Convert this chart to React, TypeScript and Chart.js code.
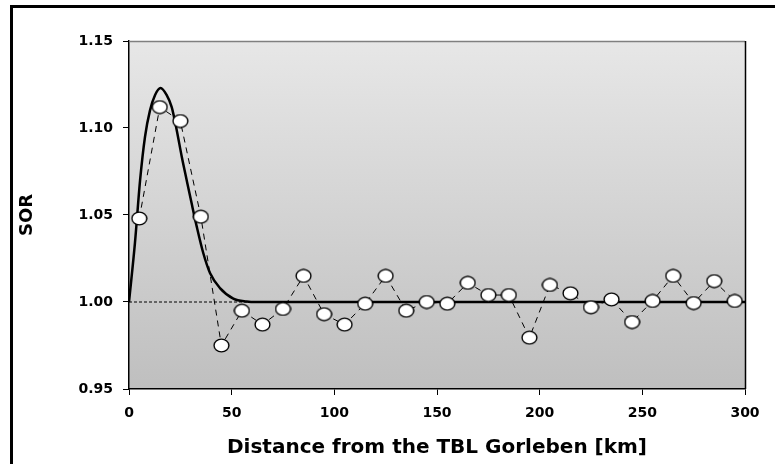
import React, { useEffect, useRef } from "react";
import { Chart, registerables } from "chart.js";

Chart.register(...registerables);

const distanceKm = [5, 15, 25, 35, 45, 55, 65, 75, 85, 95, 105, 115, 125, 135, 145, 155, 165, 175, 185, 195, 205, 215, 225, 235, 245, 255, 265, 275, 285, 295];
const sorValues = [1.048, 1.112, 1.104, 1.049, 0.975, 0.995, 0.987, 0.996, 1.015, 0.993, 0.987, 0.999, 1.015, 0.995, 1.0, 0.999, 1.011, 1.004, 1.004, 0.9795, 1.0098, 1.005, 0.997, 1.0015, 0.9885, 1.0006, 1.015, 0.9994, 1.012, 1.0006];

const fitX = [0, 2.9, 5.4, 7.8, 10.2, 12.7, 15.4, 18.3, 20.8, 23.2, 25.7, 28.1, 30.5, 33, 36.2, 39.5, 44.3, 50.8, 57.3, 62, 300];
const fitY = [1.0, 1.034, 1.07, 1.095, 1.11, 1.119, 1.123, 1.119, 1.112, 1.099, 1.0835, 1.07, 1.0567, 1.0433, 1.028, 1.0165, 1.008, 1.002, 1.0003, 1.0, 1.0];

const refX = [0, 300];
const refY = [1.0, 1.0];

const xTicks = [0, 50, 100, 150, 200, 250, 300];
const yTicks = [0.95, 1.0, 1.05, 1.1, 1.15];

const FONT = "'DejaVu Sans', sans-serif";

function makeEllipse(): HTMLCanvasElement {
  const c = document.createElement("canvas");
  c.width = 17;
  c.height = 15;
  const ctx = c.getContext("2d")!;
  ctx.beginPath();
  ctx.ellipse(8.5, 7.5, 7.4, 6.4, 0, 0, Math.PI * 2);
  ctx.fillStyle = "#ffffff";
  ctx.fill();
  ctx.lineWidth = 1.4;
  ctx.strokeStyle = "#000000";
  ctx.stroke();
  return c;
}

const framePlugin = {
  id: "framePlugin",
  beforeDraw(chart: any) {
    const { ctx, chartArea } = chart;
    const { left, top, right, bottom } = chartArea;
    ctx.save();
    ctx.fillStyle = "#ffffff";
    ctx.fillRect(0, 0, chart.width, chart.height);
    const g = ctx.createLinearGradient(0, top, 0, bottom);
    g.addColorStop(0, "#e7e7e7");
    g.addColorStop(1, "#bfbfbf");
    ctx.fillStyle = g;
    ctx.fillRect(left, top, right - left, bottom - top);
    ctx.restore();
  },
  beforeDatasetsDraw(chart: any) {
    const { ctx, chartArea } = chart;
    const { left, top, right, bottom } = chartArea;
    ctx.save();
    ctx.strokeStyle = "#808080";
    ctx.lineWidth = 1.5;
    ctx.beginPath();
    ctx.moveTo(left, top + 0.5);
    ctx.lineTo(right, top + 0.5);
    ctx.stroke();
    ctx.strokeStyle = "#000000";
    ctx.lineWidth = 1.5;
    ctx.beginPath();
    ctx.moveTo(right + 0.5, top);
    ctx.lineTo(right + 0.5, bottom);
    ctx.stroke();
    ctx.restore();
  },
  afterDraw(chart: any) {
    const { ctx } = chart;
    ctx.save();
    ctx.strokeStyle = "#000000";
    ctx.lineWidth = 3;
    ctx.strokeRect(11.5, 6.5, 900, 600);
    ctx.restore();
  },
};

export default function App() {
  const ref = useRef<HTMLCanvasElement | null>(null);

  useEffect(() => {
    document.body.style.margin = "0";
    const canvas = ref.current!;
    const pointImg = makeEllipse();
    const chart = new Chart(canvas, {
      type: "scatter",
      data: {
        datasets: [
          {
            label: "SOR",
            data: distanceKm.map((x, i) => ({ x, y: sorValues[i] })),
            showLine: true,
            borderColor: "#000000",
            borderWidth: 1,
            borderDash: [6, 5],
            pointStyle: pointImg as any,
            pointRadius: 7,
            order: 0,
          },
          {
            label: "fit",
            data: fitX.map((x, i) => ({ x, y: fitY[i] })),
            showLine: true,
            borderColor: "#000000",
            borderWidth: 2.5,
            cubicInterpolationMode: "monotone",
            pointRadius: 0,
            order: 1,
          },
          {
            label: "ref",
            data: refX.map((x, i) => ({ x, y: refY[i] })),
            showLine: true,
            borderColor: "#000000",
            borderWidth: 1,
            borderDash: [3, 2],
            pointRadius: 0,
            order: 2,
          },
        ],
      },
      options: {
        animation: false,
        responsive: false,
        devicePixelRatio: 1,
        layout: { padding: { left: 0, top: 41, right: 30, bottom: 0 } },
        plugins: { legend: { display: false }, tooltip: { enabled: false } },
        scales: {
          x: {
            type: "linear",
            min: 0,
            max: 300,
            afterFit: (s: any) => {
              s.height = 75;
            },
            afterBuildTicks: (s: any) => {
              s.ticks = xTicks.map((v) => ({ value: v }));
            },
            ticks: {
              color: "#000000",
              font: { family: FONT, size: 14, weight: "bold" },
              padding: 10,
              maxRotation: 0,
              callback: (v: any) => String(v),
            },
            grid: { drawOnChartArea: false, drawTicks: true, tickLength: 6, color: "#000000" },
            border: { display: true, color: "#000000", width: 1.5 },
            title: {
              display: true,
              text: "Distance from the TBL Gorleben [km]",
              color: "#000000",
              font: { family: FONT, size: 20, weight: "bold" },
              padding: { top: 0, bottom: 4 },
            },
          },
          y: {
            type: "linear",
            min: 0.95,
            max: 1.15,
            afterFit: (s: any) => {
              s.width = 129;
            },
            afterBuildTicks: (s: any) => {
              s.ticks = yTicks.map((v) => ({ value: v }));
            },
            ticks: {
              color: "#000000",
              font: { family: FONT, size: 14, weight: "bold" },
              padding: 10,
              callback: (v: any) => Number(v).toFixed(2),
            },
            grid: { drawOnChartArea: false, drawTicks: true, tickLength: 6, color: "#000000" },
            border: { display: true, color: "#000000", width: 1.5 },
            title: {
              display: true,
              text: "SOR",
              color: "#000000",
              font: { family: FONT, size: 18, weight: "bold" },
              padding: { top: 17, bottom: 0 },
            },
          },
        },
      },
      plugins: [framePlugin],
    });
    return () => chart.destroy();
  }, []);

  return (
    <div style={{ width: 775, height: 464 }}>
      <canvas ref={ref} width={775} height={464} style={{ display: "block" }} />
    </div>
  );
}
